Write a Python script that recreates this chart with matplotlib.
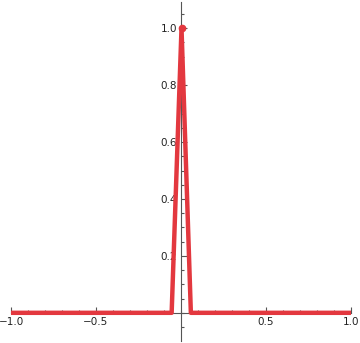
import matplotlib
matplotlib.use("Agg")
import matplotlib.pyplot as plt
from matplotlib.ticker import MultipleLocator, FixedLocator

# spike data
xs = [-1.0, -0.055, 0.003, 0.058, 1.0]
ys = [0.0, 0.0, 1.0, 0.0, 0.0]

xticks = [-1.0, -0.5, 0.5, 1.0]
yticks = [0.2, 0.4, 0.6, 0.8, 1.0]

fig = plt.figure(figsize=(3.6, 3.43), dpi=100)
ax = fig.add_axes([11 / 360, 2 / 343, 340 / 360, 339 / 343])

ax.plot(xs, ys, color="#E3383F", lw=3.2, solid_joinstyle="round",
        solid_capstyle="butt", zorder=3)
ax.plot([xs[2]], [ys[2]], "o", color="#E3383F", ms=4.5, zorder=4)

ax.set_xlim(-1, 1)
ax.set_ylim(-0.099, 1.092)

for s in ["top", "right"]:
    ax.spines[s].set_visible(False)
ax.spines["left"].set_position(("data", 0))
ax.spines["bottom"].set_position(("data", 0))
for s in ["left", "bottom"]:
    ax.spines[s].set_color("#555555")
    ax.spines[s].set_linewidth(0.8)

ax.xaxis.set_major_locator(FixedLocator(xticks))
ax.yaxis.set_major_locator(FixedLocator(yticks))
ax.xaxis.set_minor_locator(MultipleLocator(0.1))
ax.yaxis.set_minor_locator(MultipleLocator(0.05))
ax.set_xticklabels(["\u22121.0", "\u22120.5", "0.5", "1.0"])
ax.set_yticklabels(["0.2", "0.4", "0.6", "0.8", "1.0"])

ax.tick_params(which="both", direction="in", color="#555555", width=0.8,
               labelsize=7.5, labelcolor="#222222")
ax.tick_params(which="major", length=4, pad=3)
ax.tick_params(which="minor", length=2.5)

fig.savefig("out.png", dpi=100)
